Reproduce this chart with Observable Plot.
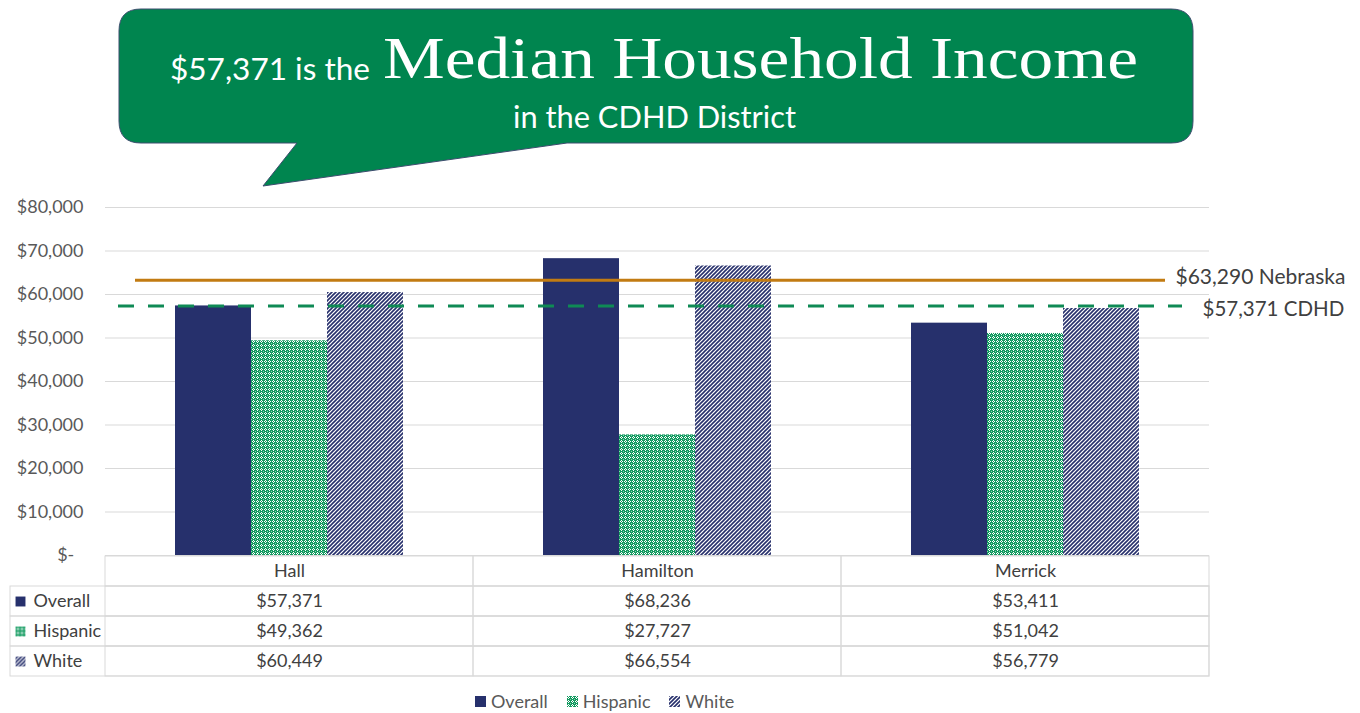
<!DOCTYPE html>
<html>
<head>
<meta charset="utf-8">
<script src="https://cdn.jsdelivr.net/npm/d3@7"></script>
<script src="https://cdn.jsdelivr.net/npm/@observablehq/plot@0.6"></script>
<style>
  body { margin: 0; background: #fff; font-family: Lato, "Open Sans", sans-serif; }
  #wrap { position: relative; width: 1360px; height: 713px; overflow: hidden; background: #fff; }
  .layer { position: absolute; left: 0; }
  #legend { position: absolute; top: 691px; left: 475px; display: flex; align-items: center;
            font-size: 18px; color: #595959; font-family: Lato, sans-serif; line-height: 20px; }
  #legend .item { display: flex; align-items: center; margin-right: 19px; }
  #legend svg { margin-right: 5px; }
</style>
</head>
<body>
<svg width="0" height="0" style="position:absolute">
  <defs>
    <pattern id="patHisp" width="4" height="4" patternUnits="userSpaceOnUse">
      <rect width="4" height="4" fill="#11995f"></rect>
      <rect x="1" y="0" width="1" height="1" fill="#ffffff"></rect>
      <rect x="0" y="1" width="1" height="1" fill="#ffffff"></rect>
      <rect x="2" y="1" width="1" height="1" fill="#ffffff"></rect>
      <rect x="1" y="2" width="1" height="1" fill="#ffffff"></rect>
      <rect x="3" y="3" width="1" height="1" fill="#8fd4b3"></rect>
    </pattern>
    <pattern id="patWhite" width="4" height="4" patternUnits="userSpaceOnUse">
      <rect width="4" height="4" fill="#ffffff"></rect>
      <path d="M-1,1 L1,-1 M0,4 L4,0 M3,5 L5,3" stroke="#27306c" stroke-width="1.6"></path>
    </pattern>
  </defs>
</svg>
<div id="wrap"></div>
<script>
// ---- data ----
const counties = ["Hall", "Hamilton", "Merrick"];
const seriesNames = ["Overall", "Hispanic", "White"];
const overall = [57371, 68236, 53411];
const hispanic = [49362, 27727, 51042];
const white = [60449, 66554, 56779];
const yTicks = [0, 10000, 20000, 30000, 40000, 50000, 60000, 70000, 80000];
const nebraskaValue = 63290;
const cdhdValue = 57371;
const titleLead = "$57,371 is the";
const titleMain = "Median Household Income";
const titleSub = "in the CDHD District";

// ---- styles ----
const seriesFills = ["#26306c", "url(#patHisp)", "url(#patWhite)"];
const seriesValues = [overall, hispanic, white];
const money = d3.format(",");
const fmtMoney = d => d === 0 ? "$-\u00a0\u00a0" : "$" + money(d);
const headerRow = "County";

const rows = counties.flatMap((c, i) =>
  seriesNames.map((s, j) => ({county: c, series: s, value: seriesValues[j][i]})));

const wrap = document.getElementById("wrap");

// ---- callout (title) ----
const ns = "http://www.w3.org/2000/svg";
const callout = document.createElementNS(ns, "svg");
callout.setAttribute("width", 1360);
callout.setAttribute("height", 195);
callout.setAttribute("class", "layer");
callout.style.top = "0px";
callout.innerHTML = `
  <path d="M141,9 H1171 Q1193,9 1193,31 V121 Q1193,143 1171,143 H567 L263,186 L297,143 H141 Q119,143 119,121 V31 Q119,9 141,9 Z"
        fill="#00854f" stroke="#3d4c6e" stroke-width="1"></path>
  <text x="170" y="80" fill="#fff" font-family="Lato, sans-serif" font-size="31" textLength="200" lengthAdjust="spacingAndGlyphs"></text>
  <text x="383" y="78" fill="#fff" font-family="'Liberation Serif', 'DejaVu Serif', serif" font-size="60" textLength="755" lengthAdjust="spacingAndGlyphs"></text>
  <text x="513" y="128" fill="#fff" font-family="Lato, sans-serif" font-size="30" textLength="283" lengthAdjust="spacingAndGlyphs"></text>`;
const tts = callout.querySelectorAll("text");
tts[0].textContent = titleLead;
tts[1].textContent = titleMain;
tts[2].textContent = titleSub;

// ---- bar chart (faceted by county) ----
const common = {
  width: 1360, height: 580,
  marginTop: 207, marginBottom: 25, marginLeft: 105, marginRight: 151,
};
const chart = Plot.plot({
  ...common,
  style: {fontFamily: "Lato, sans-serif", fontSize: "18px", color: "#595959", background: "transparent"},
  fx: {domain: counties, padding: 0, axis: null, label: null},
  facet: {marginTop: 0, marginBottom: 0, marginLeft: 0, marginRight: 0},
  x: {domain: seriesNames, paddingInner: 0, paddingOuter: 0.92, axis: null},
  y: {domain: [0, 80000], ticks: yTicks, tickFormat: fmtMoney, tickSize: 0, tickPadding: 22, label: null},
  marks: [
    Plot.ruleY(yTicks.slice(1), {stroke: "#d9d9d9"}),
    ...seriesNames.map((s, j) =>
      Plot.barY(rows.filter(r => r.series === s), {fx: "county", x: "series", y: "value", fill: seriesFills[j]})),
    Plot.ruleY([0], {stroke: "#d9d9d9"})
  ]
});
chart.classList.add("layer");
chart.style.top = "0px";

// ---- reference lines ----
const refs = Plot.plot({
  ...common,
  style: {fontFamily: "Lato, sans-serif", fontSize: "21px", color: "#404040", background: "transparent"},
  y: {domain: [0, 80000], axis: null},
  marks: [
    Plot.ruleY([nebraskaValue], {stroke: "#c27b12", strokeWidth: 3, insetLeft: 30, insetRight: 44}),
    Plot.ruleY([cdhdValue], {stroke: "#0f8a55", strokeWidth: 3, strokeDasharray: "16,14", insetLeft: 13, insetRight: 27}),
    Plot.text([nebraskaValue], {y: d => d, text: d => `$${money(d)} Nebraska`, frameAnchor: "right",
      textAnchor: "start", dx: -34, dy: -3, fontSize: 21, fill: "#404040"}),
    Plot.text([cdhdValue], {y: d => d, text: d => `$${money(d)} CDHD`, frameAnchor: "right",
      textAnchor: "start", dx: -7, dy: 4, fontSize: 20.5, fill: "#404040"})
  ]
});
refs.classList.add("layer");
refs.style.top = "0px";

// ---- data table ----
const tableCells = counties.flatMap((c, i) => [
  {county: c, row: headerRow, label: c},
  ...seriesNames.map((s, j) => ({county: c, row: s, label: "$" + money(seriesValues[j][i])}))
]);
const table = Plot.plot({
  width: 1360, height: 125,
  marginTop: 0, marginBottom: 3, marginLeft: 10, marginRight: 151,
  style: {fontFamily: "Lato, sans-serif", fontSize: "18px", color: "#404040", background: "transparent"},
  x: {domain: counties, range: [105, 1209], padding: 0, axis: null},
  y: {domain: [headerRow, ...seriesNames], padding: 0, axis: null},
  marks: [
    Plot.cell(seriesNames, {y: d => d, fill: "none", stroke: "#d9d9d9"}),
    Plot.cell(tableCells, {x: "county", y: "row", fill: "none", stroke: "#d9d9d9"}),
    Plot.text(tableCells, {x: "county", y: "row", text: "label", fontSize: 18, fill: "#404040"}),
    ...seriesNames.map((s, j) =>
      Plot.dot([s], {y: d => d, frameAnchor: "left", dx: 10, symbol: "square", r: 5.6, fill: seriesFills[j], stroke: "none"})),
    Plot.text(seriesNames, {y: d => d, text: d => d, frameAnchor: "left", textAnchor: "start", dx: 23, fontSize: 18, fill: "#404040"})
  ]
});
table.classList.add("layer");
table.style.top = "555px";

// ---- legend ----
const legend = document.createElement("div");
legend.id = "legend";
seriesNames.forEach((s, j) => {
  const item = document.createElement("div");
  item.className = "item";
  item.innerHTML = `<svg width="11" height="11"><rect width="11" height="11" fill="${seriesFills[j]}"></rect></svg><span></span>`;
  item.querySelector("span").textContent = s;
  legend.appendChild(item);
});

wrap.appendChild(chart);
wrap.appendChild(table);
wrap.appendChild(refs);
wrap.appendChild(callout);
wrap.appendChild(legend);
</script>
</body>
</html>
